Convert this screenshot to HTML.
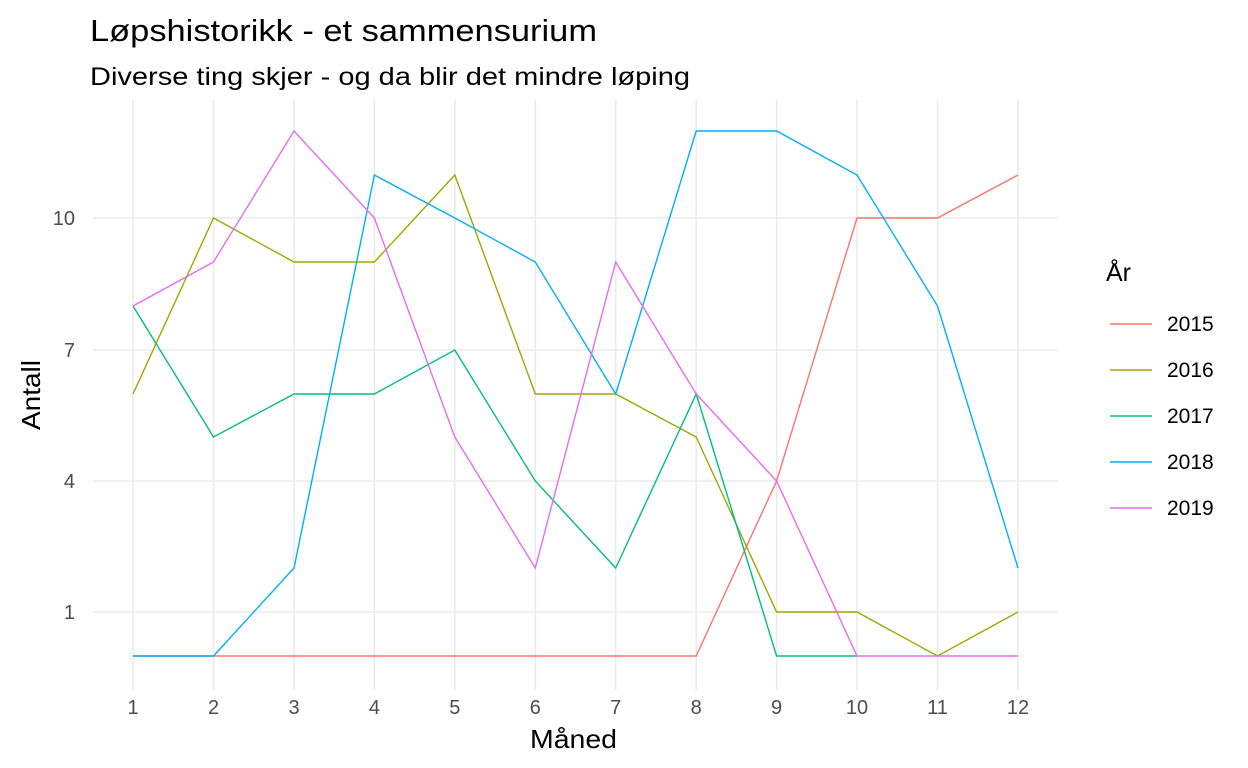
<!DOCTYPE html>
<html><head><meta charset="utf-8"><style>body{margin:0;background:#fff}svg{display:block}text{font-family:"Liberation Sans",sans-serif}</style></head><body>
<svg width="1248" height="768" xmlns="http://www.w3.org/2000/svg">
<rect width="1248" height="768" fill="#fff"/>
<g stroke="#ebebeb" stroke-width="1.6">
<line x1="93" x2="1058" y1="218" y2="218"/><line x1="93" x2="1058" y1="350" y2="350"/><line x1="93" x2="1058" y1="481" y2="481"/><line x1="93" x2="1058" y1="612" y2="612"/>
<line x1="133" x2="133" y1="100" y2="690"/><line x1="213.5" x2="213.5" y1="100" y2="690"/><line x1="294" x2="294" y1="100" y2="690"/><line x1="374.4" x2="374.4" y1="100" y2="690"/><line x1="454.8" x2="454.8" y1="100" y2="690"/><line x1="535.3" x2="535.3" y1="100" y2="690"/><line x1="615.7" x2="615.7" y1="100" y2="690"/><line x1="696.2" x2="696.2" y1="100" y2="690"/><line x1="776.6" x2="776.6" y1="100" y2="690"/><line x1="857" x2="857" y1="100" y2="690"/><line x1="937.5" x2="937.5" y1="100" y2="690"/><line x1="1018" x2="1018" y1="100" y2="690"/>
</g>
<g fill="none" stroke-width="1.4">
<polyline stroke="#F8766D" points="133,656 213.5,656 294,656 374.4,656 454.8,656 535.3,656 615.7,656 696.2,656 776.6,481 857,218 937.5,218 1018,175"/>
<polyline stroke="#A3A500" points="133,394 213.5,218 294,262 374.4,262 454.8,175 535.3,394 615.7,394 696.2,437 776.6,612 857,612 937.5,656 1018,612"/>
<polyline stroke="#00BF7D" points="133,306 213.5,437 294,394 374.4,394 454.8,350 535.3,481 615.7,568 696.2,394 776.6,656 857,656"/>
<polyline stroke="#00B0F6" points="133,656 213.5,656 294,568 374.4,175 454.8,218 535.3,262 615.7,394 696.2,131 776.6,131 857,175 937.5,306 1018,568"/>
<polyline stroke="#E76BF3" points="133,306 213.5,262 294,131 374.4,218 454.8,437 535.3,568 615.7,262 696.2,394 776.6,481 857,656 937.5,656 1018,656"/>
</g>
<g font-size="20" fill="#4d4d4d" text-anchor="end">
<text x="75" y="225">10</text><text x="75" y="357">7</text><text x="75" y="488">4</text><text x="75" y="619">1</text>
</g>
<g font-size="20" fill="#4d4d4d" text-anchor="middle">
<text x="133" y="714">1</text><text x="213.5" y="714">2</text><text x="294" y="714">3</text><text x="374.4" y="714">4</text><text x="454.8" y="714">5</text><text x="535.3" y="714">6</text><text x="615.7" y="714">7</text><text x="696.2" y="714">8</text><text x="776.6" y="714">9</text><text x="857" y="714">10</text><text x="937.5" y="714">11</text><text x="1018" y="714">12</text>
</g>
<text x="530" y="748" font-size="26" textLength="87" lengthAdjust="spacingAndGlyphs">Måned</text>
<text transform="translate(40,430) rotate(-90)" font-size="26" textLength="70" lengthAdjust="spacingAndGlyphs">Antall</text>
<text x="90" y="41" font-size="31" textLength="507" lengthAdjust="spacingAndGlyphs">Løpshistorikk - et sammensurium</text>
<text x="90" y="85" font-size="25" textLength="600" lengthAdjust="spacingAndGlyphs">Diverse ting skjer - og da blir det mindre løping</text>
<text x="1106" y="281" font-size="25">År</text>
<g stroke-width="1.4">
<line x1="1110" x2="1152" y1="324" y2="324" stroke="#F8766D"/>
<line x1="1110" x2="1152" y1="370" y2="370" stroke="#A3A500"/>
<line x1="1110" x2="1152" y1="416" y2="416" stroke="#00BF7D"/>
<line x1="1110" x2="1152" y1="462" y2="462" stroke="#00B0F6"/>
<line x1="1110" x2="1152" y1="508" y2="508" stroke="#E76BF3"/>
</g>
<g font-size="21">
<text x="1167" y="331">2015</text><text x="1167" y="377">2016</text><text x="1167" y="423">2017</text><text x="1167" y="469">2018</text><text x="1167" y="515">2019</text>
</g>
</svg>
</body></html>
